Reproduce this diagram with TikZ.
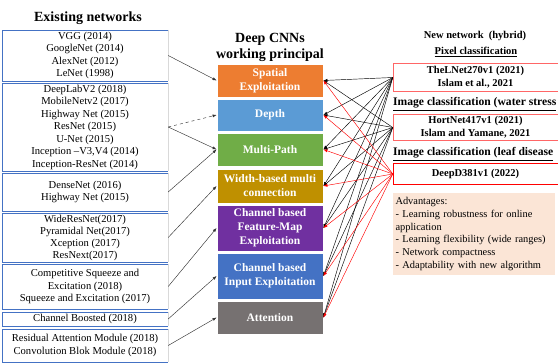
\documentclass[tikz,border=0pt]{standalone}
\usepackage{fontspec}
\setmainfont{Liberation Serif}
\usetikzlibrary{arrows.meta}
\definecolor{edgeblue}{HTML}{4472C4}
\definecolor{cspatial}{HTML}{ED7D31}
\definecolor{cdepth}{HTML}{5B9BD5}
\definecolor{cmulti}{HTML}{70AD47}
\definecolor{cwidth}{HTML}{BF9000}
\definecolor{cfmap}{HTML}{7030A0}
\definecolor{cinput}{HTML}{4472C4}
\definecolor{cattn}{HTML}{767171}
\definecolor{peach}{HTML}{FBE5D6}
\tikzset{
  heading/.style={font=\bfseries\fontsize{14}{16}\selectfont, align=center, inner sep=0pt},
  netbox/.style={minimum width=166pt, minimum height=#1, inner sep=0pt, align=center,
    font=\fontsize{10.6}{12.5}\selectfont},
  cnnbox/.style={fill=#1, draw=white, line width=0.8pt, minimum width=106pt, inner sep=0pt,
    align=center, text=white, font=\bfseries\fontsize{11.5}{14}\selectfont},
  newbox/.style={minimum width=165pt, minimum height=#1, inner sep=0pt, align=center,
    font=\bfseries\fontsize{10.5}{13}\selectfont},
  subhead/.style={font=\bfseries\fontsize{11.6}{14}\selectfont, inner sep=0pt, anchor=west},
  link/.style={line width=0.45pt, -{Latex[length=4pt,width=3pt]}}
}
\begin{document}
\begin{tikzpicture}[x=1pt, y=-1pt]
  \useasboundingbox (0,0) rectangle (558,363);
  \node[heading] (existing) at (88,18) {Existing networks};
  \node[netbox=51pt] (b1) at (85,55.5) {VGG (2014)\\GoogleNet (2014)\\AlexNet (2012)\\LeNet (1998)};
  \node[netbox=88pt] (b2) at (85,127) {DeepLabV2 (2018)\\MobileNetv2 (2017)\\Highway Net (2015)\\ResNet (2015)\\U-Net (2015)\\Inception --V3,V4 (2014)\\Inception-ResNet (2014)};
  \node[netbox=38pt] (b3) at (85,192) {DenseNet (2016)\\Highway Net (2015)};
  \node[netbox=49pt, font=\fontsize{10.6}{12}\selectfont] (b4) at (85,237.5) {WideResNet(2017)\\Pyramidal Net(2017)\\Xception (2017)\\ResNext(2017)};
  \node[netbox=45pt] (b5) at (85,286.5) {Competitive Squeeze and\\Excitation (2018)\\Squeeze and Excitation (2017)};
  \node[netbox=14pt] (b6) at (85,319) {Channel Boosted (2018)};
  \node[netbox=33pt] (b7) at (85,345.5) {Residual Attention Module (2018)\\Convolution Blok Module (2018)};
  \foreach \n in {b1,b2,b3,b4,b5,b6,b7} {
    \draw[gray!30] (\n.north east) -- (\n.south east);
    \draw[edgeblue] (\n.north east) -- (\n.north west) -- (\n.south west) -- (\n.south east);
  }

  \node[heading] (principal) at (270,47) {Deep CNNs\\working principal};
  \node[cnnbox=cspatial, minimum height=33pt] (spatial) at (270,80.5) {Spatial\\Exploitation};
  \node[cnnbox=cdepth, minimum height=32pt] (depth) at (270,115) {Depth};
  \node[cnnbox=cmulti, minimum height=33pt] (multi) at (270,149.5) {Multi-Path};
  \node[cnnbox=cwidth, minimum height=34pt] (width) at (270,186) {Width-based multi\\connection};
  \node[cnnbox=cfmap, minimum height=46pt] (fmap) at (270,228) {Channel based\\Feature-Map\\Exploitation};
  \node[cnnbox=cinput, minimum height=46pt] (input) at (270,276) {Channel based\\Input Exploitation};
  \node[cnnbox=cattn, minimum height=33pt] (attn) at (270,317.5) {Attention};

  \node[font=\bfseries\fontsize{10.5}{13}\selectfont, inner sep=0pt] (newnet) at (475,36) {New network\ \ (hybrid)};
  \node[font=\bfseries\fontsize{10.5}{13}\selectfont, inner sep=0pt] (pixel) at (476,52) {\underline{Pixel classification}};
  \node[newbox=27pt] (thel) at (475.5,77.5) {TheLNet270v1 (2021)\\Islam et al., 2021};
  \node[subhead] (water) at (393,104) {\underline{Image classification (water stress}};
  \node[newbox=25pt] (hort) at (475.5,127.5) {HortNet417v1 (2021)\\Islam and Yamane, 2021};
  \node[subhead] (leaf) at (393,154) {\underline{Image classification (leaf disease}};
  \node[newbox=20pt] (deepd) at (475.5,174) {DeepD381v1 (2022)};
  \foreach \n/\c in {thel/red!60, hort/red!60, deepd/red} {
    \draw[\c, line width=0.6pt] (\n.north east) -- (\n.north west) -- (\n.south west) -- (\n.south east);
  }
  \node[fill=peach, minimum height=82pt, text width=157pt, inner xsep=2.5pt, inner ysep=3pt,
    align=left, font=\fontsize{10.4}{12.8}\selectfont] (adv) at (474,234)
    {Advantages:\\- Learning robustness for online\\application\\- Learning flexibility (wide ranges)\\- Network compactness\\- Adaptability with new algorithm};

  \begin{scope}[link, black!80]
    \draw (b1.east) -- (spatial.west);
    \draw[dashed] (b2.east) -- (depth.west);
    \draw (b2.east) -- (multi.west);
    \draw (b3.east) -- (multi.west);
    \draw (b4.east) -- (width.west);
    \draw (b5.east) -- (fmap.west);
    \draw (b6.east) -- (input.west);
    \draw (b7.east) -- (attn.west);
  \end{scope}
  \begin{scope}[link]
    \foreach \s/\c in {thel/black, hort/black, deepd/red}
      \foreach \t in {spatial,depth,multi,width,fmap,input,attn}
        \draw[\c] (\s.west) -- (\t.east);
  \end{scope}
\end{tikzpicture}
\end{document}
